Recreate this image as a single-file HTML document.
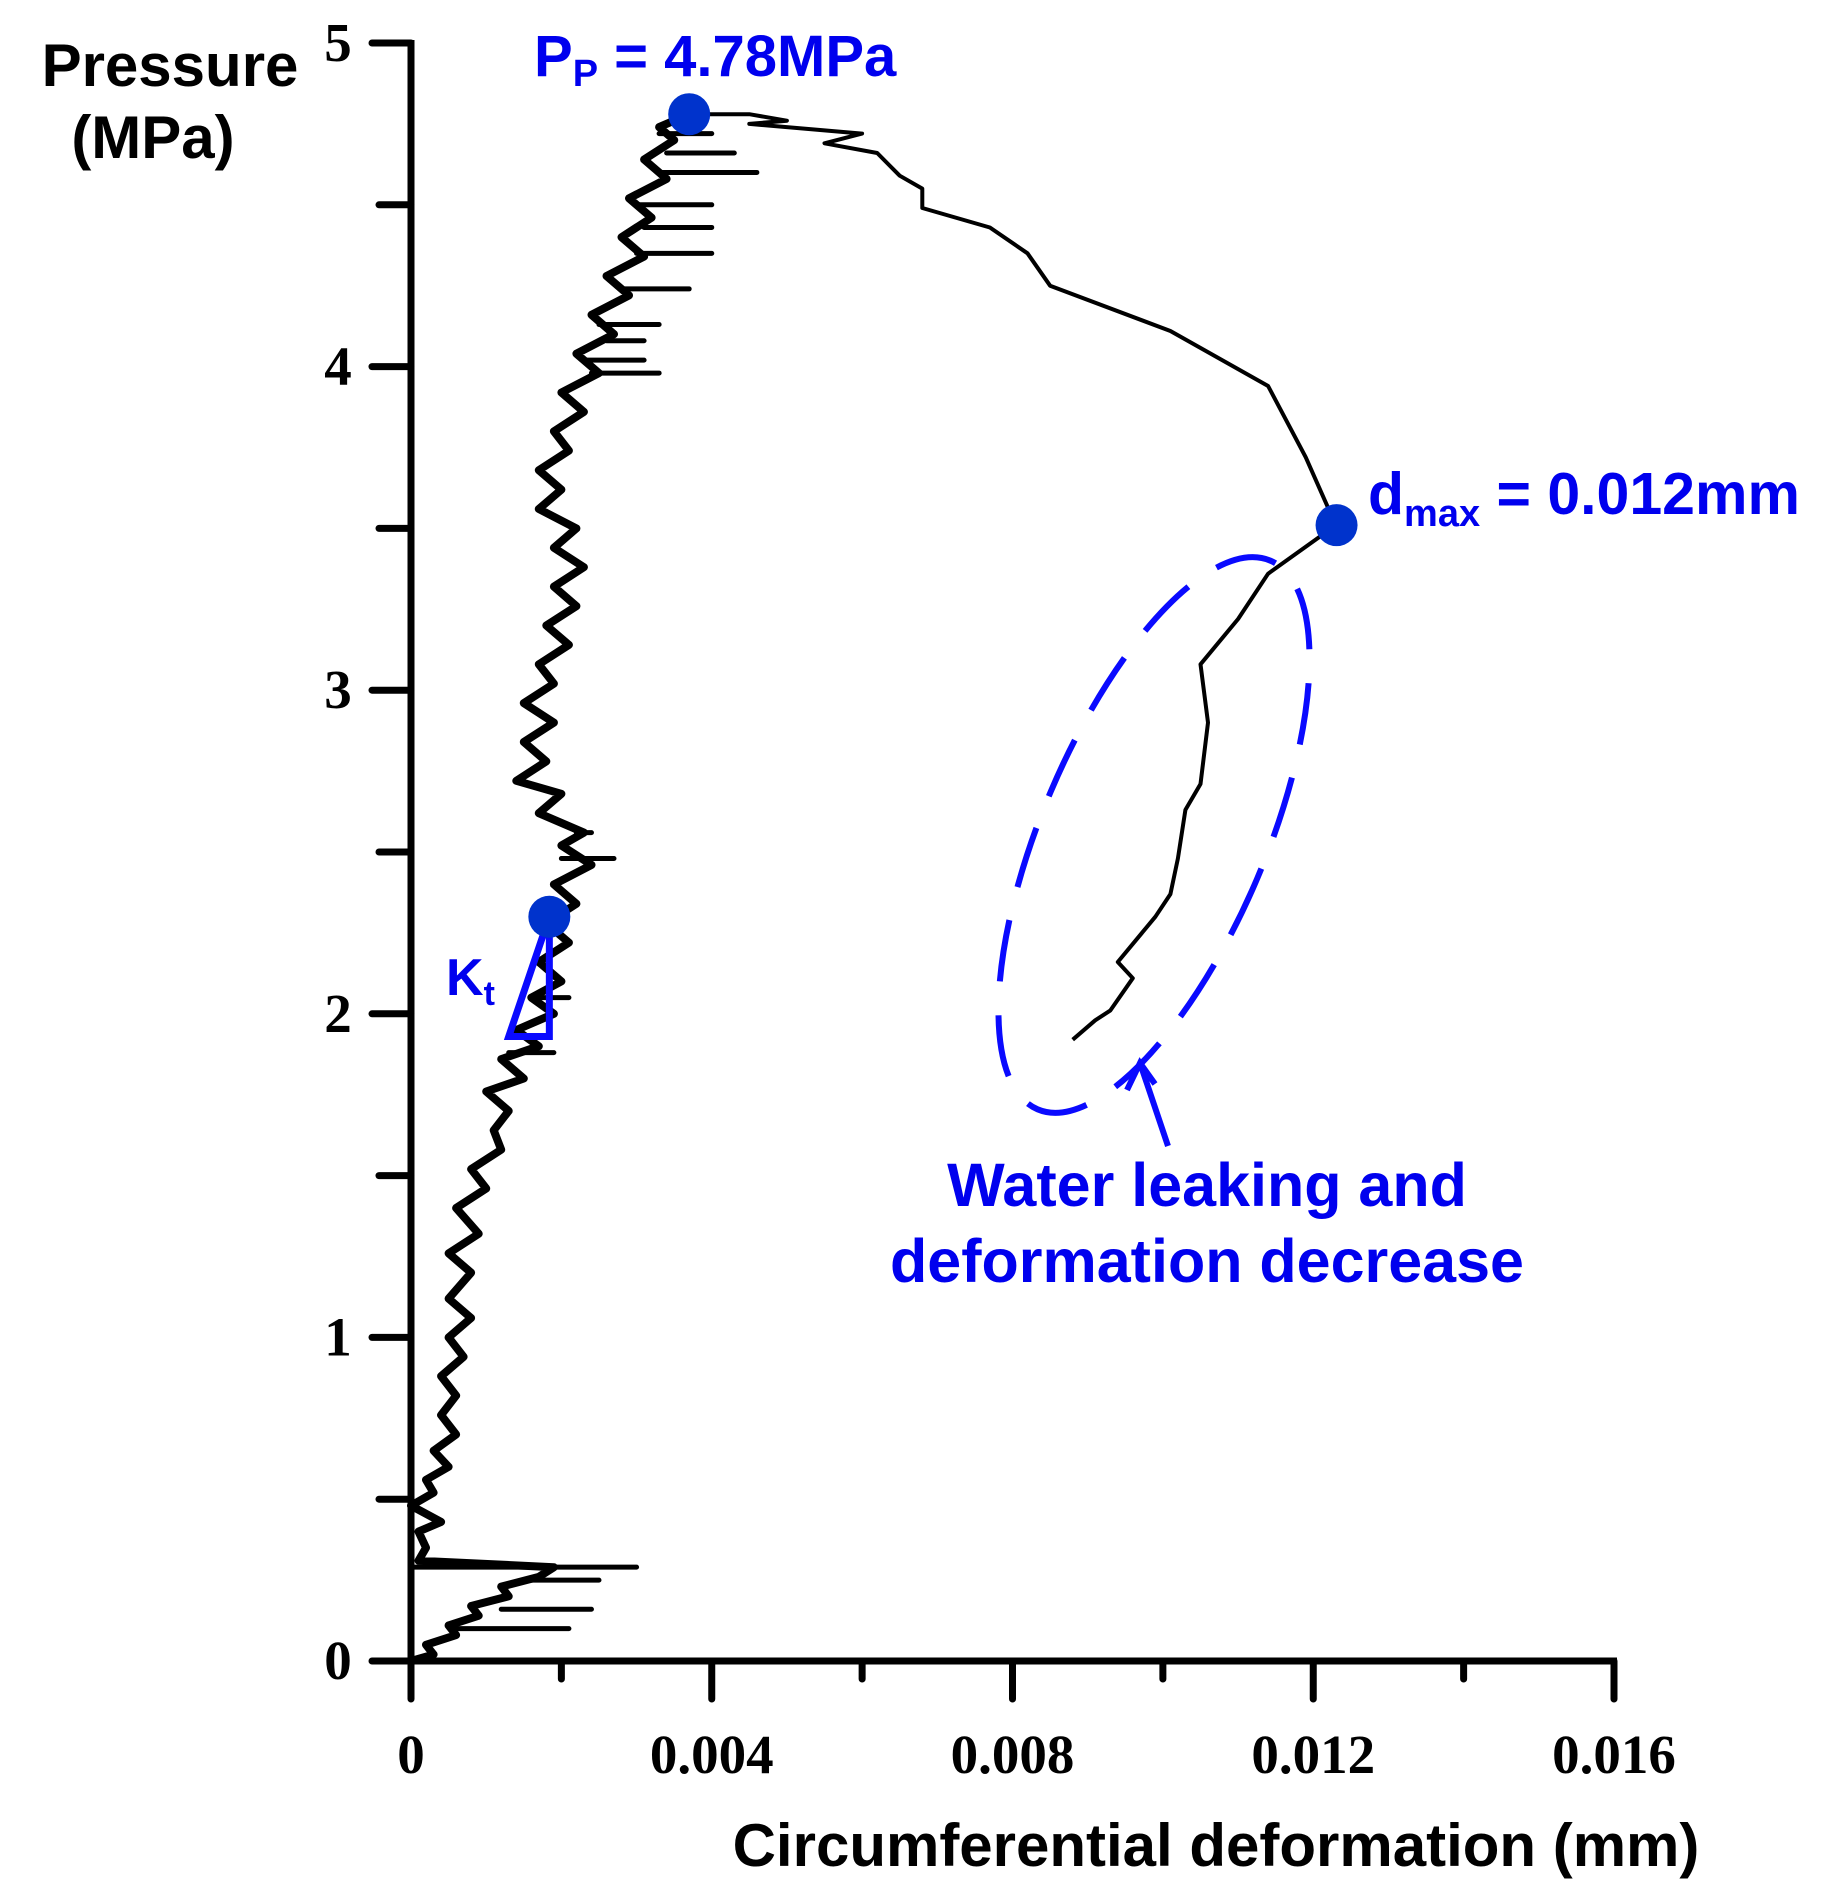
<!DOCTYPE html>
<html><head><meta charset="utf-8"><style>
html,body{margin:0;padding:0;background:#fff;}
svg{display:block;}
</style></head><body>
<svg id="chart" width="1837" height="1892" viewBox="0 0 1837 1892" xmlns="http://www.w3.org/2000/svg">
<g id="axes"></g>
<g id="series"></g>
<g id="annot"></g>
<text x="170" y="86" font-family="Liberation Sans, sans-serif" font-weight="bold" font-size="60" text-anchor="middle">Pressure</text>
<text x="153" y="158" font-family="Liberation Sans, sans-serif" font-weight="bold" font-size="60" text-anchor="middle">(MPa)</text>
<text x="1216" y="1866" font-family="Liberation Sans, sans-serif" font-weight="bold" font-size="60" text-anchor="middle">Circumferential deformation (mm)</text>
<text x="534" y="76" fill="#0000ee" font-family="Liberation Sans, sans-serif" font-weight="bold" font-size="58">P<tspan font-size="38" dy="10">P</tspan><tspan dy="-10"> = 4.78MPa</tspan></text>
<text x="1368" y="514" fill="#0000ee" font-family="Liberation Sans, sans-serif" font-weight="bold" font-size="59">d<tspan font-size="38" dy="12">max</tspan><tspan dy="-12"> = 0.012mm</tspan></text>
<text x="446" y="995" fill="#0000ee" font-family="Liberation Sans, sans-serif" font-weight="bold" font-size="52">K<tspan font-size="34" dy="10">t</tspan></text>
<text x="1207" y="1206" fill="#0000ee" font-family="Liberation Sans, sans-serif" font-weight="bold" font-size="61" text-anchor="middle">Water leaking and</text>
<text x="1207" y="1282" fill="#0000ee" font-family="Liberation Sans, sans-serif" font-weight="bold" font-size="61" text-anchor="middle">deformation decrease</text>
</svg>
<script>
const xTicks = [0, 0.004, 0.008, 0.012, 0.016];
const xTickLabels = ["0", "0.004", "0.008", "0.012", "0.016"];
const xMinorTicks = [0.002, 0.006, 0.010, 0.014];
const yTicks = [0, 1, 2, 3, 4, 5];
const yTickLabels = ["0", "1", "2", "3", "4", "5"];
const yMinorTicks = [0.5, 1.5, 2.5, 3.5, 4.5];
const curveX = [0,0.0003,0.0002,0.0006,0.0005,0.0009,0.0008,0.0013,0.0012,0.0017,0.0019,0.0001,
0.0002,0.0001,0.0004,0.0,0.0003,0.0002,0.0005,0.0003,0.0006,0.0004,0.0006,0.0004,0.0007,0.0005,0.0008,0.0005,0.0008,0.0005,0.0009,0.0006,0.0010,0.0008,0.0012,0.0011,0.0013,0.0010,0.0015,0.0012,0.0017,0.0014,0.0019,0.0016,0.0020,0.0017,0.0021,0.0018,0.0022,0.0019,0.0024,0.0020,0.0023,0.0017,0.0020,0.0014,0.0018,0.0015,0.0019,0.0015,0.0019,0.0017,0.0021,0.0018,0.0022,0.0019,0.0023,0.0019,0.0022,0.0017,0.0020,0.0017,0.0021,0.0019,0.0023,0.0020,0.0025,0.0022,0.0027,0.0024,0.0029,0.0026,0.0031,0.0028,0.0032,0.0029,0.0034,0.0031,0.0035,0.0033,0.0037,0.0045,0.0050,0.0045,0.0060,0.0055,0.0062,
0.0065,0.0068,0.0068,0.0077,0.0082,0.0085,0.0101,0.0114,0.0119,0.0123,
0.0114,0.0110,0.0105,0.0106,0.0105,0.0103,0.0102,0.0101,0.0099,0.0094,0.0096,0.0093,0.0091,0.0088,0.0089];
const curveP = [0,0.02,0.05,0.08,0.11,0.14,0.17,0.2,0.23,0.26,0.29,0.31,
0.35,0.4,0.43,0.48,0.52,0.56,0.6,0.65,0.7,0.76,0.82,0.88,0.94,1.0,1.06,1.12,1.2,1.26,1.32,1.4,1.46,1.52,1.58,1.64,1.7,1.76,1.8,1.86,1.9,1.95,2.0,2.05,2.1,2.16,2.22,2.28,2.34,2.4,2.46,2.52,2.56,2.62,2.68,2.72,2.78,2.84,2.9,2.96,3.02,3.08,3.14,3.2,3.26,3.32,3.38,3.44,3.5,3.56,3.62,3.68,3.74,3.8,3.86,3.92,3.98,4.04,4.1,4.16,4.22,4.28,4.34,4.4,4.46,4.52,4.58,4.64,4.7,4.74,4.78,4.78,4.76,4.75,4.72,4.69,4.66,
4.59,4.55,4.49,4.43,4.35,4.25,4.11,3.94,3.72,3.51,
3.36,3.22,3.08,2.9,2.71,2.63,2.48,2.37,2.3,2.16,2.11,2.01,1.98,1.92];
const spikeP = [0.29,0.25,0.16,0.1,2.48,2.56,2.05,1.88,3.98,4.02,4.08,4.13,4.24,4.35,4.43,4.5,4.6,4.66,4.72];
const spikeX0 = [0.0000,0.0015,0.0012,0.0006,0.0020,0.0022,0.0016,0.0013,0.0024,0.0023,0.0026,0.0025,0.0028,0.0030,0.0031,0.0030,0.0033,0.0034,0.0033];
const spikeX1 = [0.0030,0.0025,0.0024,0.0021,0.0027,0.0024,0.0021,0.0019,0.0033,0.0031,0.0031,0.0033,0.0037,0.0040,0.0040,0.0040,0.0046,0.0043,0.0040];
const markerX = [0.0037, 0.01231, 0.00184];
const markerP = [4.78, 3.51, 2.30];

const NS = "http://www.w3.org/2000/svg";
const X = v => 411 + v / 0.016 * 1203;
const Y = p => 1661 - p * 323.6;
function mk(tag, attrs, parent) {
  const e = document.createElementNS(NS, tag);
  for (const k in attrs) e.setAttribute(k, attrs[k]);
  parent.appendChild(e);
  return e;
}
const axes = document.getElementById('axes');
const series = document.getElementById('series');
const annot = document.getElementById('annot');

let e = mk('line', {x1: X(0), y1: Y(5) - 3, x2: X(0), y2: Y(0) + 3, stroke: '#000', 'stroke-width': 7}, axes);


e = mk('line', {x1: 372, y1: Y(0), x2: X(0.016) + 3, y2: Y(0), stroke: '#000', 'stroke-width': 7}, axes);



yTicks.forEach((t, i) => {
  const l = mk('line', {x1: 372, y1: Y(t), x2: X(0), y2: Y(t), stroke: '#000', 'stroke-width': 7, 'stroke-linecap': 'round'}, axes);
  
  
  const tx = mk('text', {x: 338, y: Y(t) + 18, 'text-anchor': 'middle', 'font-family': 'Liberation Serif, serif', 'font-weight': 'bold', 'font-size': 55}, axes);
  tx.textContent = yTickLabels[i];
  
  
});
yMinorTicks.forEach(t => {
  const l = mk('line', {x1: 379, y1: Y(t), x2: X(0), y2: Y(t), stroke: '#000', 'stroke-width': 7, 'stroke-linecap': 'round'}, axes);
  
  
});
xTicks.forEach((t, i) => {
  const l = mk('line', {x1: X(t), y1: Y(0), x2: X(t), y2: 1699, stroke: '#000', 'stroke-width': 7, 'stroke-linecap': 'round'}, axes);
  
  
  const tx = mk('text', {x: X(t), y: 1773, 'text-anchor': 'middle', 'font-family': 'Liberation Serif, serif', 'font-weight': 'bold', 'font-size': 55}, axes);
  tx.textContent = xTickLabels[i];
  
  
});
xMinorTicks.forEach(t => {
  const l = mk('line', {x1: X(t), y1: Y(0), x2: X(t), y2: 1679, stroke: '#000', 'stroke-width': 7, 'stroke-linecap': 'round'}, axes);
  
  
});

// split: noisy pre-peak portion drawn thicker
let peakIdx = curveP.indexOf(Math.max(...curveP));
let d1 = '', d2 = '';
curveX.forEach((v, i) => {
  const pt = X(v).toFixed(1) + ',' + Y(curveP[i]).toFixed(1);
  if (i <= peakIdx) d1 += (i ? 'L' : 'M') + pt;
  if (i >= peakIdx) d2 += (i === peakIdx ? 'M' : 'L') + pt;
});
const path1 = mk('path', {d: d1, fill: 'none', stroke: '#000', 'stroke-width': 8, 'stroke-linejoin': 'round'}, series);


const path2 = mk('path', {d: d2, fill: 'none', stroke: '#000', 'stroke-width': 4, 'stroke-linejoin': 'round'}, series);


spikeP.forEach((p, i) => {
  const l = mk('line', {x1: X(spikeX0[i]), y1: Y(p), x2: X(spikeX1[i]), y2: Y(p), stroke: '#000', 'stroke-width': 5, 'stroke-linecap': 'round'}, series);
  
  
});

const ell = mk('ellipse', {cx: 1154, cy: 835, rx: 112, ry: 298, fill: 'none', stroke: '#0a0aff', 'stroke-width': 6, 'stroke-dasharray': '62 34', transform: 'rotate(23 1154 835)'}, annot);


const arr = mk('path', {d: 'M1168,1146 L1140,1063 M1127,1090 L1140,1063 L1155,1084', fill: 'none', stroke: '#0a0aff', 'stroke-width': 6}, annot);


const tri = mk('path', {d: 'M' + X(0.00184) + ',' + Y(2.3) + ' L' + X(0.0013) + ',' + Y(1.93) + ' L' + X(0.00184) + ',' + Y(1.93) + ' Z', fill: 'none', stroke: '#0a0aff', 'stroke-width': 7}, annot);


const mnames = ['peak-pressure-marker', 'max-deformation-marker', 'kt-marker'];
markerX.forEach((v, i) => {
  const c = mk('circle', {cx: X(v), cy: Y(markerP[i]), r: 21, fill: '#0033cc'}, annot);
  
  
});
</script>
</body></html>
